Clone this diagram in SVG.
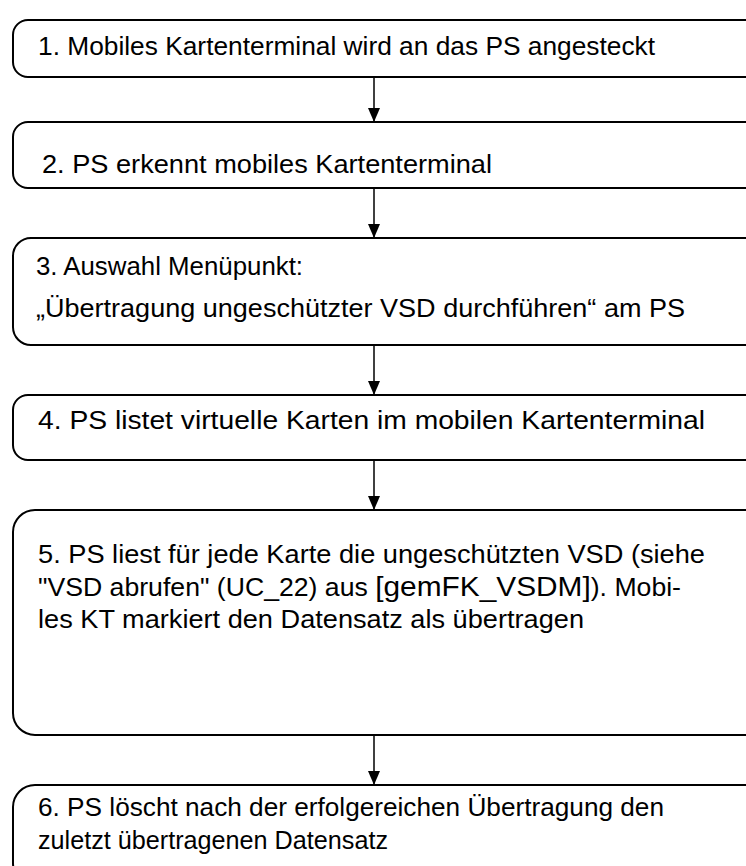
<svg xmlns="http://www.w3.org/2000/svg" width="746" height="866" viewBox="0 0 746 866">
  <defs>
    <marker id="arrow" markerWidth="14" markerHeight="12" refX="14" refY="6" orient="auto" markerUnits="userSpaceOnUse" viewBox="0 0 14 12">
      <path d="M0,0 L14,6 L0,12 Z" fill="#000"/>
    </marker>
    <style>
      .box { fill: #fff; stroke: #000; stroke-width: 2; }
      .lbl { font-family: "Liberation Sans", Arial, sans-serif; font-size: 25px; fill: #000; }
      .ref { font-size: 28px; }
      .conn { stroke: #000; stroke-width: 1.5; fill: none; }
    </style>
  </defs>
  <rect width="746" height="866" fill="#fff"/>

  <g id="connectors">
    <line class="conn" x1="374" y1="77" x2="374" y2="122" marker-end="url(#arrow)"/>
    <line class="conn" x1="374" y1="188" x2="374" y2="238" marker-end="url(#arrow)"/>
    <line class="conn" x1="374" y1="345" x2="374" y2="395" marker-end="url(#arrow)"/>
    <line class="conn" x1="374" y1="460" x2="374" y2="510" marker-end="url(#arrow)"/>
    <line class="conn" x1="374" y1="735" x2="374" y2="785" marker-end="url(#arrow)"/>
  </g>

  <g id="step1">
    <rect class="box" x="13" y="20" width="760" height="57" rx="15"/>
    <text class="lbl" x="38" y="55" textLength="617" lengthAdjust="spacingAndGlyphs">1. Mobiles Kartenterminal wird an das PS angesteckt</text>
  </g>
  <g id="step2">
    <rect class="box" x="13" y="122" width="760" height="66" rx="15"/>
    <text class="lbl" x="42" y="173" textLength="450" lengthAdjust="spacingAndGlyphs">2. PS erkennt mobiles Kartenterminal</text>
  </g>
  <g id="step3">
    <rect class="box" x="13" y="238" width="760" height="107" rx="18"/>
    <text class="lbl" x="36" y="275" textLength="267" lengthAdjust="spacingAndGlyphs">3. Auswahl Menüpunkt:</text>
    <text class="lbl" x="36" y="317" textLength="649" lengthAdjust="spacingAndGlyphs">„Übertragung ungeschützter VSD durchführen“ am PS</text>
  </g>
  <g id="step4">
    <rect class="box" x="13" y="395" width="760" height="65" rx="15"/>
    <text class="lbl" x="38" y="429" textLength="667" lengthAdjust="spacingAndGlyphs">4. PS listet virtuelle Karten im mobilen Kartenterminal</text>
  </g>
  <g id="step5">
    <rect class="box" x="13" y="510" width="760" height="225" rx="22"/>
    <text class="lbl" x="38" y="563" textLength="667" lengthAdjust="spacingAndGlyphs">5. PS liest für jede Karte die ungeschützten VSD (siehe</text>
    <text class="lbl" x="38" y="596" textLength="643" lengthAdjust="spacingAndGlyphs">"VSD abrufen" (UC_22) aus <tspan class="ref">[gemFK_VSDM]</tspan>). Mobi-</text>
    <text class="lbl" x="38" y="628" textLength="546" lengthAdjust="spacingAndGlyphs">les KT markiert den Datensatz als übertragen</text>
  </g>
  <g id="step6">
    <rect class="box" x="13" y="785" width="760" height="100" rx="22"/>
    <text class="lbl" x="38" y="816" textLength="626" lengthAdjust="spacingAndGlyphs">6. PS löscht nach der erfolgereichen Übertragung den</text>
    <text class="lbl" x="38" y="849" textLength="350" lengthAdjust="spacingAndGlyphs">zuletzt übertragenen Datensatz</text>
  </g>
</svg>
